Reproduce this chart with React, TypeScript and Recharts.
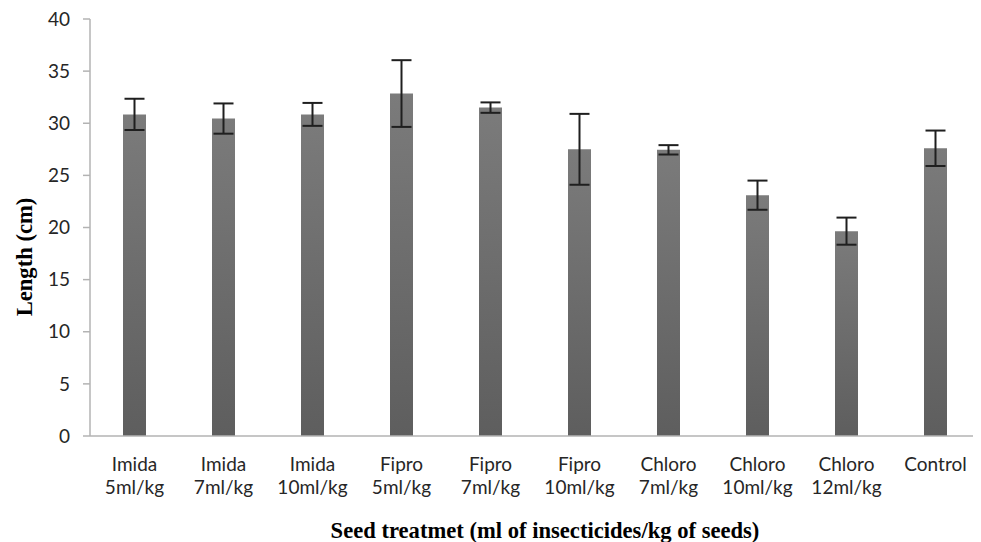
// Seed treatment vs. length bar chart with error bars
import { BarChart, Bar, XAxis, YAxis, ErrorBar } from "recharts";

const groups = ["Imida", "Imida", "Imida", "Fipro", "Fipro", "Fipro", "Chloro", "Chloro", "Chloro", "Control"];
const doses = ["5ml/kg", "7ml/kg", "10ml/kg", "5ml/kg", "7ml/kg", "10ml/kg", "7ml/kg", "10ml/kg", "12ml/kg", ""];
const lengths = [30.85, 30.45, 30.85, 32.85, 31.5, 27.5, 27.45, 23.1, 19.65, 27.6];
const errors = [1.5, 1.45, 1.1, 3.2, 0.5, 3.4, 0.45, 1.4, 1.3, 1.7];
const yTicks = [0, 5, 10, 15, 20, 25, 30, 35, 40];

const data = groups.map((g, i) => ({
  name: `${g} ${doses[i]}`,
  length: lengths[i],
  err: errors[i],
}));

const axisColor = "#b3b3b3";
const textColor = "#262626";
const tickFont = "Lato, 'Open Sans', sans-serif";
const titleFont = "'Liberation Serif', 'Times New Roman', serif";

function CategoryTick(props: any) {
  const { x, y, payload } = props;
  const i = payload.index;
  return (
    <text x={x} textAnchor="middle" fill={textColor} fontFamily={tickFont} fontSize={19}>
      <tspan x={x} y={y + 35}>{groups[i]}</tspan>
      <tspan x={x} y={y + 58}>{doses[i]}</tspan>
    </text>
  );
}

function XTitle(props: any) {
  const vb = props.viewBox;
  return (
    <text
      x={vb.x + vb.width / 2 + 10}
      y={530}
      textAnchor="middle"
      fill="#000"
      fontFamily={titleFont}
      fontWeight="bold"
      fontSize={22.6}
    >
      Seed treatmet (ml of insecticides/kg of seeds)
    </text>
  );
}

function YTitle() {
  return (
    <text
      x={24}
      y={249}
      transform="rotate(-90, 24, 249)"
      textAnchor="middle"
      fill="#000"
      fontFamily={titleFont}
      fontWeight="bold"
      fontSize={22.6}
    >
      Length (cm)
    </text>
  );
}

export default function App() {
  return (
    <div style={{ width: 973, height: 534 }}>
      <BarChart
        width={973}
        height={534}
        data={data}
        margin={{ top: 11, right: 1, bottom: 6, left: 0 }}
      >
        <defs>
          <linearGradient id="barFill" x1="0" y1="0" x2="0" y2="1">
            <stop offset="0%" stopColor="#7b7b7b" />
            <stop offset="100%" stopColor="#5e5e5e" />
          </linearGradient>
        </defs>
        <XAxis
          dataKey="name"
          height={100}
          interval={0}
          tickLine={false}
          tickSize={0}
          tickMargin={0}
          axisLine={{ stroke: axisColor, strokeWidth: 1.5 }}
          tick={<CategoryTick />}
          label={{ content: <XTitle /> }}
        />
        <YAxis
          width={82}
          domain={[0, 40]}
          ticks={yTicks}
          interval={0}
          tickSize={7}
          tickMargin={13}
          axisLine={{ stroke: axisColor, strokeWidth: 1.5 }}
          tickLine={{ stroke: axisColor, strokeWidth: 1.5 }}
          tick={{ fill: textColor, fontFamily: tickFont, fontSize: 19 }}
          label={{ content: <YTitle /> }}
        />
        <Bar dataKey="length" fill="url(#barFill)" barSize={23} isAnimationActive={false}>
          <ErrorBar
            dataKey="err"
            direction="y"
            width={10}
            stroke="#1f1f1f"
            strokeWidth={2}
            isAnimationActive={false}
          />
        </Bar>
      </BarChart>
    </div>
  );
}
